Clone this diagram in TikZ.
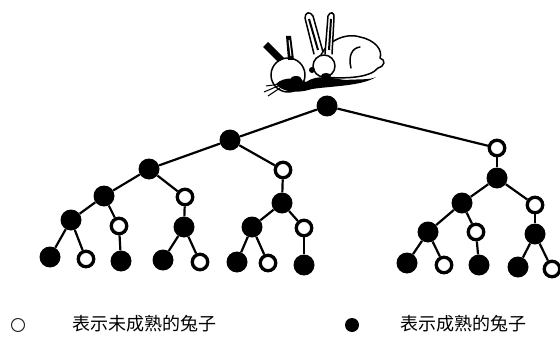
\documentclass[tikz,border=0pt]{standalone}
\usepackage{fontspec}
\newfontfamily\cjk{Noto Sans CJK SC}
\usetikzlibrary{positioning}
\tikzstyle{link}  = [line width=2.2pt]
\tikzstyle{sketch} = [line width=1.5pt, line join=round, line cap=round]

\begin{document}
\begin{tikzpicture}[x=1pt,y=-1pt,
			ripe/.style={circle,fill=black,minimum size=21pt,inner sep=0pt},
			young/.style={circle,draw=black,line width=3.3pt,fill=white,
					minimum size=15.5pt,inner sep=0pt},
			keyripe/.style={circle,fill=black,minimum size=14pt,inner sep=0pt},
			keyyoung/.style={circle,draw=black!85,line width=1pt,
					minimum size=13pt,inner sep=0pt},
			keytext/.style={font=\cjk\fontsize{18}{18}\selectfont,inner sep=0pt}
		]
		\useasboundingbox (0,0) rectangle (560,337);

		% the two rabbits
		\draw[sketch,fill=white] (318,64) .. controls (322,42) and (345,32) .. (360,37)
		.. controls (375,40) and (383,50) .. (380,58) .. controls (386,60) and (385,66) .. (378,68)
		.. controls (370,78) and (345,79) .. (322,77);
		\draw[sketch] (351,68) .. controls (348,56) and (352,48) .. (360,47);
		\draw[sketch,fill=white] (314,54) -- (305,18) .. controls (305,12) and (310,11) .. (313,16) -- (323,52);
		\draw[line width=2pt] (309,19) -- (318,50);
		\draw[sketch,fill=white] (325,54) -- (328,16) .. controls (330,11) and (335,12) .. (334,18) -- (332,54);
		\draw[line width=2pt] (331,19) -- (329,50);
		\draw[sketch,fill=white] (324,66) circle[radius=11];
		\draw[sketch,fill=white] (288,75) circle[radius=17];
		\fill (263,47) -- (268,42) -- (284,58) -- (278,62) -- cycle;
		\fill (286,36) -- (291,36) -- (294,60) -- (288,60) -- cycle;
		\draw[white,line width=1pt] (289,40) -- (291,56);
		\fill (276,84) .. controls (284,76) and (298,78) .. (306,82) .. controls (318,74) and (330,78) .. (345,80)
		.. controls (360,79) and (370,80) .. (376,77) .. controls (362,86) and (332,86) .. (312,89)
		.. controls (296,94) and (282,92) .. (276,84) -- cycle;
		\fill (296,80) ellipse[x radius=6,y radius=4];
		\fill (312,70) circle[radius=3];
		\fill (326,76) ellipse[x radius=5,y radius=3];
		\draw[line width=1pt] (278,86) -- (264,92);
		\draw[line width=1pt] (280,88) -- (268,96);
		\draw[line width=1pt] (281,84) -- (266,86);

		% family tree
		\node[ripe]  (r)    at (327,106) {};
		\node[ripe]  (a)    at (230,140) {};
		\node[young] (c)    at (497,148) {};

		\node[ripe]  (aa)   at (149,169) {};
		\node[young] (ab)   at (283,170) {};
		\node[ripe]  (ca)   at (497,178) {};

		\node[ripe]  (aaa)  at (104,196) {};
		\node[young] (aab)  at (185,197) {};
		\node[ripe]  (aba)  at (282,203) {};
		\node[ripe]  (caa)  at (462,203) {};
		\node[young] (cab)  at (535,205) {};

		\node[ripe]  (aaaa) at (71,220) {};
		\node[young] (aaab) at (119,226) {};
		\node[ripe]  (aaba) at (184,227) {};
		\node[ripe]  (abaa) at (252,227) {};
		\node[young] (abab) at (304,228) {};
		\node[ripe]  (caaa) at (428,232) {};
		\node[young] (caab) at (476,232) {};
		\node[ripe]  (caba) at (535,234) {};

		\node[ripe]  (b1)   at (50,257) {};
		\node[young] (b2)   at (86,259) {};
		\node[ripe]  (b3)   at (121,261) {};
		\node[ripe]  (b4)   at (163,260) {};
		\node[young] (b5)   at (200,262) {};
		\node[ripe]  (b6)   at (237,262) {};
		\node[young] (b7)   at (268,263) {};
		\node[ripe]  (b8)   at (304,265) {};
		\node[ripe]  (b9)   at (407,263) {};
		\node[young] (b10)  at (444,265) {};
		\node[ripe]  (b11)  at (479,265) {};
		\node[ripe]  (b12)  at (518,267) {};
		\node[young] (b13)  at (552,269) {};

		\draw[link] (r) -- (a);    \draw[link] (r) -- (c);
		\draw[link] (a) -- (aa);   \draw[link] (a) -- (ab);
		\draw[link] (c) -- (ca);
		\draw[link] (aa) -- (aaa); \draw[link] (aa) -- (aab);
		\draw[link] (ab) -- (aba);
		\draw[link] (ca) -- (caa); \draw[link] (ca) -- (cab);
		\draw[link] (aaa) -- (aaaa); \draw[link] (aaa) -- (aaab);
		\draw[link] (aab) -- (aaba);
		\draw[link] (aba) -- (abaa); \draw[link] (aba) -- (abab);
		\draw[link] (caa) -- (caaa); \draw[link] (caa) -- (caab);
		\draw[link] (cab) -- (caba);
		\draw[link] (aaaa) -- (b1); \draw[link] (aaaa) -- (b2);
		\draw[link] (aaab) -- (b3);
		\draw[link] (aaba) -- (b4); \draw[link] (aaba) -- (b5);
		\draw[link] (abaa) -- (b6); \draw[link] (abaa) -- (b7);
		\draw[link] (abab) -- (b8);
		\draw[link] (caaa) -- (b9); \draw[link] (caaa) -- (b10);
		\draw[link] (caab) -- (b11);
		\draw[link] (caba) -- (b12); \draw[link] (caba) -- (b13);

		% legend
		\node[keyyoung] (ky) at (18,325) {};
		\node[keytext,anchor=west,right=47pt of ky,yshift=1pt] (ty) {表示未成熟的兔子};
		\node[keyripe] (kr) at (352,325) {};
		\node[keytext,anchor=west,right=41pt of kr,yshift=1pt] (tr) {表示成熟的兔子};
\end{tikzpicture}
\end{document}
